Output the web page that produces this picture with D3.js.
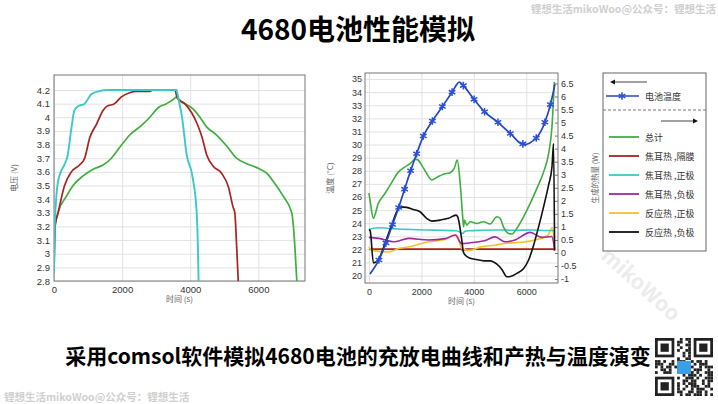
<!DOCTYPE html>
<html lang="zh">
<head>
<meta charset="UTF-8">
<title>4680电池性能模拟</title>
<script src="https://d3js.org/d3.v7.min.js"></script>
<style>
  body { margin: 0; background: #fff; }
  svg text { font-family: "Liberation Sans", Arial, sans-serif; }
  svg .cjk { font-family: "Noto Sans CJK SC", "Noto Sans", sans-serif; }
</style>
</head>
<body>
<svg id="chart" width="718" height="404"></svg>
<script>
// ---- left chart: voltage (V) vs time (s) ----
const vCyanT  = [0, 20, 50, 100, 200, 300, 400, 500, 600, 700, 900, 1100, 1300, 1600, 3600, 3650, 3760, 3900, 4040, 4110, 4160, 4200, 4230, 4245];
const vCyanV  = [2.86, 3.2, 3.35, 3.5, 3.6, 3.65, 3.72, 3.9, 4.05, 4.08, 4.1, 4.17, 4.19, 4.2, 4.2, 4.14, 4.0, 3.72, 3.6, 3.5, 3.4, 3.25, 3.0, 2.8];
const vRedT   = [0, 30, 120, 310, 510, 750, 900, 1050, 1250, 1440, 1550, 1780, 1980, 2220, 2420, 2800, 2900, 3550, 3620, 3840, 4190, 4340, 4490, 4680, 4920, 5120, 5260, 5310, 5360, 5410];
const vRedV   = [2.86, 3.2, 3.3, 3.5, 3.6, 3.65, 3.7, 3.85, 3.95, 4.05, 4.08, 4.1, 4.15, 4.18, 4.19, 4.19, 4.2, 4.2, 4.14, 4.1, 3.96, 3.86, 3.72, 3.64, 3.59, 3.49, 3.34, 3.3, 3.07, 2.8];
const vGreenT = [0, 30, 118, 363, 560, 853, 1147, 1441, 1686, 1931, 2225, 2569, 2814, 3059, 3304, 3500, 3600, 3745, 3845, 4090, 4285, 4480, 4775, 5070, 5360, 5660, 6050, 6245, 6440, 6735, 6980, 7030, 7080, 7130];
const vGreenV = [2.86, 3.2, 3.3, 3.42, 3.5, 3.57, 3.62, 3.65, 3.7, 3.78, 3.87, 3.94, 4.0, 4.07, 4.1, 4.13, 4.15, 4.11, 4.1, 4.06, 4.0, 3.93, 3.87, 3.79, 3.7, 3.66, 3.62, 3.59, 3.53, 3.42, 3.3, 3.2, 3.02, 2.8];
const vTicks = [2.8, 2.9, 3, 3.1, 3.2, 3.3, 3.4, 3.5, 3.6, 3.7, 3.8, 3.9, 4, 4.1, 4.2];
const timeTicks = [0, 2000, 4000, 6000];

// ---- right chart: temperature (°C, left axis) and heat (W, right axis) ----
const tempT = [40, 380, 650, 900, 1135, 1360, 1590, 1820, 2075, 2420, 2800, 3170, 3450, 3600, 4010, 4410, 4920, 5390, 5900, 6380, 6710, 6920, 7040, 7090];
const tempV = [20.13, 21.2, 22.5, 23.9, 25.2, 26.6, 28.0, 29.3, 30.65, 31.8, 32.9, 34.0, 34.77, 34.5, 33.45, 32.5, 31.7, 30.85, 30.0, 30.5, 31.7, 33.05, 34.1, 34.6];
const markT = [380, 650, 900, 1135, 1360, 1590, 1820, 2075, 2420, 2800, 3170, 3600, 4010, 4410, 4920, 5390, 5870, 6380, 6710, 6920];
const markV = [21.2, 22.5, 23.9, 25.2, 26.6, 28.0, 29.3, 30.65, 31.8, 32.9, 34.0, 34.5, 33.45, 32.5, 31.7, 30.85, 30.05, 30.5, 31.7, 33.05];

const totalT = [0, 60, 165, 357, 610, 866, 1120, 1375, 1570, 1760, 1850, 2010, 2200, 2400, 2590, 2840, 3100, 3250, 3370, 3480, 3580, 3610, 3640, 3730, 3860, 4110, 4370, 4620, 4880, 5000, 5130, 5325, 5450, 5640, 5900, 6150, 6400, 6660, 6850, 6980, 7070];
const totalW = [2.3, 1.9, 1.33, 1.9, 2.28, 2.7, 3.1, 3.3, 3.43, 3.59, 3.58, 3.37, 3.05, 2.8, 2.9, 3.02, 3.08, 3.24, 3.56, 2.67, 1.33, 1.0, 1.26, 1.07, 1.2, 1.13, 1.2, 1.11, 1.39, 1.33, 1.0, 0.75, 0.73, 0.94, 1.39, 1.9, 2.47, 3.1, 3.8, 4.84, 6.56];
const sepT = [0, 3500, 3600, 3700, 7050, 7080];
const sepW = [0.15, 0.15, 0.1, 0.15, 0.15, 0.1];
const posJT = [0, 300, 700, 1100, 1600, 2200, 2800, 3350, 3580, 3650, 3800, 4300, 5000, 5600, 6200, 6800, 7080];
const posJW = [0.9, 0.97, 0.95, 0.92, 0.9, 0.88, 0.87, 0.85, 0.75, 0.82, 0.85, 0.87, 0.88, 0.87, 0.88, 0.86, 0.86];
const negJT = [0, 370, 990, 1510, 2270, 2900, 3290, 3540, 3920, 4400, 4810, 5190, 5570, 6150, 6590, 6970, 7080];
const negJW = [0.6, 0.56, 0.43, 0.56, 0.5, 0.55, 0.69, 0.36, 0.4, 0.47, 0.62, 0.43, 0.5, 0.79, 0.6, 0.63, 0.15];
const posRT = [0, 115, 750, 1130, 1640, 2270, 2900, 3350, 3540, 3800, 4300, 4810, 5190, 5700, 6330, 6840, 6990, 7080];
const posRW = [0.24, 0.1, 0.04, 0.17, 0.26, 0.43, 0.52, 0.69, 0.17, 0.1, 0.24, 0.3, 0.37, 0.4, 0.5, 0.69, 0.98, 0.15];
const negRT = [0, 50, 170, 290, 420, 610, 866, 1057, 1210, 1440, 1690, 1950, 2200, 2400, 2710, 3030, 3320, 3380, 3540, 3600, 3670, 3860, 4110, 4370, 4620, 4880, 5070, 5260, 5390, 5640, 5900, 6090, 6280, 6470, 6660, 6850, 6980, 7040, 7080];
const negRW = [0.9, 0.85, -0.38, -0.33, -0.14, 0.37, 1.07, 1.58, 1.77, 1.75, 1.67, 1.58, 1.33, 1.22, 1.26, 1.33, 1.45, 1.4, 0.5, 0.05, -0.08, -0.2, -0.25, -0.3, -0.3, -0.43, -0.63, -0.91, -0.9, -0.78, -0.59, -0.27, 0.3, 1.0, 1.77, 2.6, 3.3, 4.2, 0.1];

const tempTicks = [20, 21, 22, 23, 24, 25, 26, 27, 28, 29, 30, 31, 32, 33, 34, 35];
const heatTicks = [-1, -0.5, 0, 0.5, 1, 1.5, 2, 2.5, 3, 3.5, 4, 4.5, 5, 5.5, 6, 6.5];

const legendLabels = ["总计", "焦耳热 ,隔膜", "焦耳热 ,正极", "焦耳热 ,负极", "反应热 ,正极", "反应热 ,负极"];
const heatColors   = ["#3fae3f", "#a82222", "#3cc8c8", "#a326a3", "#f2c22a", "#111111"];

const svg = d3.select("#chart");
const gridColor = "#e2e2e2";
const frameColor = "#777";
const fmt = d => String(+d.toFixed(1));

// faint diagonal watermark
svg.append("text").attr("class", "cjk")
    .attr("transform", "translate(636,290) rotate(42)")
    .attr("text-anchor", "middle")
    .style("font-size", "21px").style("font-weight", "bold")
    .attr("fill", "#ececec")
    .text("mikoWoo");

// ---------- left chart ----------
const L = { left: 54, right: 305, top: 75, bottom: 281 };
const xL = d3.scaleLinear().domain([0, 7370]).range([L.left, L.right]);
const yL = d3.scaleLinear().domain([2.8, 4.31]).range([L.bottom, L.top]);

const gL = svg.append("g");
gL.append("defs").append("clipPath").attr("id", "clipL")
  .append("rect").attr("x", L.left).attr("y", L.top)
  .attr("width", L.right - L.left).attr("height", L.bottom - L.top);

gL.append("g").attr("transform", `translate(0,${L.bottom})`)
  .call(d3.axisBottom(xL).tickValues(timeTicks).tickSize(-(L.bottom - L.top)).tickFormat(d3.format("d")))
  .call(g => g.select(".domain").remove())
  .call(g => g.selectAll("line").attr("stroke", gridColor))
  .call(g => g.selectAll("text").attr("fill", "#333").style("font-size", "9.5px").attr("dy", "0.9em"));
gL.append("g").attr("transform", `translate(${L.left},0)`)
  .call(d3.axisLeft(yL).tickValues(vTicks).tickSize(-(L.right - L.left)).tickFormat(fmt))
  .call(g => g.select(".domain").remove())
  .call(g => g.selectAll("line").attr("stroke", gridColor))
  .call(g => g.selectAll("text").attr("fill", "#333").style("font-size", "9.5px").attr("x", -4));
gL.append("rect").attr("x", L.left).attr("y", L.top)
  .attr("width", L.right - L.left).attr("height", L.bottom - L.top)
  .attr("fill", "none").attr("stroke", frameColor);

function drawLine(g, xs, ys, x, y, color, clip, width) {
  const pts = xs.map((t, i) => [t, ys[i]]);
  g.append("path").datum(pts)
    .attr("clip-path", `url(#${clip})`)
    .attr("fill", "none").attr("stroke", color).attr("stroke-width", width || 1.6)
    .attr("stroke-linejoin", "round")
    .attr("d", d3.line().x(d => x(d[0])).y(d => y(d[1])).curve(d3.curveMonotoneX));
}
drawLine(gL, vGreenT, vGreenV, xL, yL, "#3fae3f", "clipL", 1.7);
drawLine(gL, vRedT, vRedV, xL, yL, "#a82222", "clipL", 1.7);
drawLine(gL, vCyanT, vCyanV, xL, yL, "#3cc8c8", "clipL", 1.9);

gL.append("text").attr("class", "cjk")
  .attr("transform", `translate(17,${(L.top + L.bottom) / 2}) rotate(-90)`)
  .attr("text-anchor", "middle").attr("fill", "#666").style("font-size", "8px")
  .text("电压 (V)");
gL.append("text").attr("class", "cjk")
  .attr("x", (L.left + L.right) / 2).attr("y", 302)
  .attr("text-anchor", "middle").attr("fill", "#666").style("font-size", "8px")
  .text("时间 (s)");

// ---------- right chart ----------
const R = { left: 365, right: 558, top: 73, bottom: 283 };
const xR = d3.scaleLinear().domain([-150, 7210]).range([R.left, R.right]);
const yT = d3.scaleLinear().domain([19.44, 35.46]).range([R.bottom, R.top]);
const yW = d3.scaleLinear().domain([-1.15, 6.9]).range([R.bottom, R.top]);

const gR = svg.append("g");
gR.append("defs").append("clipPath").attr("id", "clipR")
  .append("rect").attr("x", R.left).attr("y", R.top)
  .attr("width", R.right - R.left).attr("height", R.bottom - R.top);

gR.append("g").attr("transform", `translate(0,${R.bottom})`)
  .call(d3.axisBottom(xR).tickValues(timeTicks).tickSize(-(R.bottom - R.top)).tickFormat(d3.format("d")))
  .call(g => g.select(".domain").remove())
  .call(g => g.selectAll("line").attr("stroke", gridColor))
  .call(g => g.selectAll("text").attr("fill", "#333").style("font-size", "9px").attr("dy", "0.95em"));
gR.append("g").attr("transform", `translate(${R.left},0)`)
  .call(d3.axisLeft(yT).tickValues(tempTicks).tickSize(-(R.right - R.left)).tickFormat(fmt))
  .call(g => g.select(".domain").remove())
  .call(g => g.selectAll("line").attr("stroke", gridColor))
  .call(g => g.selectAll("text").attr("fill", "#333").style("font-size", "9px").attr("x", -3));
gR.append("g").attr("transform", `translate(${R.right},0)`)
  .call(d3.axisRight(yW).tickValues(heatTicks).tickSize(3).tickFormat(fmt))
  .call(g => g.select(".domain").remove())
  .call(g => g.selectAll("line").attr("stroke", frameColor).attr("x2", -3))
  .call(g => g.selectAll("text").attr("fill", "#333").style("font-size", "9px").attr("x", 3));
gR.append("rect").attr("x", R.left).attr("y", R.top)
  .attr("width", R.right - R.left).attr("height", R.bottom - R.top)
  .attr("fill", "none").attr("stroke", frameColor);

const heatSeries = [[totalT, totalW], [sepT, sepW], [posJT, posJW], [negJT, negJW], [posRT, posRW], [negRT, negRW]];
[1, 4, 3, 2, 0, 5].forEach(i => {
  drawLine(gR, heatSeries[i][0], heatSeries[i][1], xR, yW, heatColors[i], "clipR", 1.6);
});

drawLine(gR, tempT, tempV, xR, yT, "#2346c0", "clipR", 1.7);
gR.selectAll(".mark").data(markT).join("path").attr("class", "mark")
  .attr("transform", (d, i) => `translate(${xR(d)},${yT(markV[i])})`)
  .attr("d", d3.symbol(d3.symbolAsterisk, 40))
  .attr("fill", "none").attr("stroke", "#2b4fd8").attr("stroke-width", 1.5);

gR.append("text").attr("class", "cjk")
  .attr("transform", `translate(333,${(R.top + R.bottom) / 2}) rotate(-90)`)
  .attr("text-anchor", "middle").attr("fill", "#666").style("font-size", "8px")
  .text("温度 (°C)");
gR.append("text").attr("class", "cjk")
  .attr("x", (R.left + R.right) / 2).attr("y", 304)
  .attr("text-anchor", "middle").attr("fill", "#666").style("font-size", "8px")
  .text("时间 (s)");
gR.append("text").attr("class", "cjk")
  .attr("transform", `translate(598,${(R.top + R.bottom) / 2}) rotate(-90)`)
  .attr("text-anchor", "middle").attr("fill", "#666").style("font-size", "7.5px")
  .text("生成的热量 (W)");

// ---------- legend ----------
const lg = svg.append("g");
lg.append("rect").attr("x", 603).attr("y", 73).attr("width", 103).attr("height", 178)
  .attr("fill", "#fff").attr("stroke", "#666");
lg.append("line").attr("x1", 603).attr("x2", 706).attr("y1", 110).attr("y2", 110)
  .attr("stroke", "#777").attr("stroke-dasharray", "3,2");
// left arrow
lg.append("line").attr("x1", 614).attr("x2", 647).attr("y1", 82).attr("y2", 82).attr("stroke", "#444");
lg.append("path").attr("d", "M610,82 L615,79.5 L615,84.5 Z").attr("fill", "#111");
// right arrow
lg.append("line").attr("x1", 661).attr("x2", 694).attr("y1", 121).attr("y2", 121).attr("stroke", "#444");
lg.append("path").attr("d", "M698,121 L693,118.5 L693,123.5 Z").attr("fill", "#111");
// temperature entry
lg.append("line").attr("x1", 606).attr("x2", 639).attr("y1", 96).attr("y2", 96)
  .attr("stroke", "#2346c0").attr("stroke-width", 1.6);
lg.append("path").attr("transform", "translate(622,96)")
  .attr("d", d3.symbol(d3.symbolAsterisk, 40)).attr("fill", "none")
  .attr("stroke", "#2b4fd8").attr("stroke-width", 1.5);
lg.append("text").attr("class", "cjk").attr("x", 645).attr("y", 99.5)
  .attr("fill", "#333").style("font-size", "9px").text("电池温度");
legendLabels.forEach((lab, i) => {
  const y = 137 + i * 19;
  lg.append("line").attr("x1", 609).attr("x2", 639).attr("y1", y).attr("y2", y)
    .attr("stroke", heatColors[i]).attr("stroke-width", 1.8);
  lg.append("text").attr("class", "cjk").attr("x", 645).attr("y", y + 3.5)
    .attr("fill", "#333").style("font-size", "9px").text(lab);
});

// ---------- titles and watermarks ----------
svg.append("text").attr("class", "cjk")
  .attr("x", 358).attr("y", 40).attr("text-anchor", "middle")
  .style("font-size", "28px").style("font-weight", "bold").attr("fill", "#000")
  .text("4680电池性能模拟");
svg.append("text").attr("class", "cjk")
  .attr("x", 358).attr("y", 364).attr("text-anchor", "middle")
  .style("font-size", "21px").style("font-weight", "bold").attr("fill", "#000")
  .text("采用comsol软件模拟4680电池的充放电曲线和产热与温度演变");
svg.append("text").attr("class", "cjk")
  .attr("x", 716).attr("y", 13).attr("text-anchor", "end")
  .style("font-size", "10.5px").style("font-weight", "bold").attr("fill", "#cfcfcf")
  .text("锂想生活mikoWoo@公众号：锂想生活");
svg.append("text").attr("class", "cjk")
  .attr("x", 4).attr("y", 401)
  .style("font-size", "10.5px").style("font-weight", "bold").attr("fill", "#cfcfcf")
  .text("锂想生活mikoWoo@公众号：锂想生活");

// ---------- QR-style badge ----------
const qrBits = "1110101001011100110100011010111001010011100101011010011100101101001011101001110011010100111010011101001011001101100101110100101101011100101001110110100101110011010110011101001011100101101001110011011010010111001010110";
const qr = svg.append("g").attr("transform", "translate(655,338)");
const cells = 21, cs = 58 / cells;
d3.range(cells * cells).forEach(k => {
  const r = Math.floor(k / cells), c = k % cells;
  const inFinder = (r < 8 && c < 8) || (r < 8 && c > 12) || (r > 12 && c < 8);
  if (inFinder) return;
  if (qrBits[k % qrBits.length] === "1") {
    qr.append("rect").attr("x", c * cs).attr("y", r * cs).attr("width", cs).attr("height", cs).attr("fill", "#222");
  }
});
[[0, 0], [14, 0], [0, 14]].forEach(([c, r]) => {
  qr.append("rect").attr("x", c * cs + cs / 2).attr("y", r * cs + cs / 2).attr("width", 6 * cs).attr("height", 6 * cs)
    .attr("fill", "none").attr("stroke", "#222").attr("stroke-width", cs);
  qr.append("rect").attr("x", (c + 2) * cs).attr("y", (r + 2) * cs).attr("width", 3 * cs).attr("height", 3 * cs).attr("fill", "#222");
});
qr.append("rect").attr("x", 22).attr("y", 23).attr("width", 14).attr("height", 13).attr("fill", "#3b9fe6");
</script>
</body>
</html>
